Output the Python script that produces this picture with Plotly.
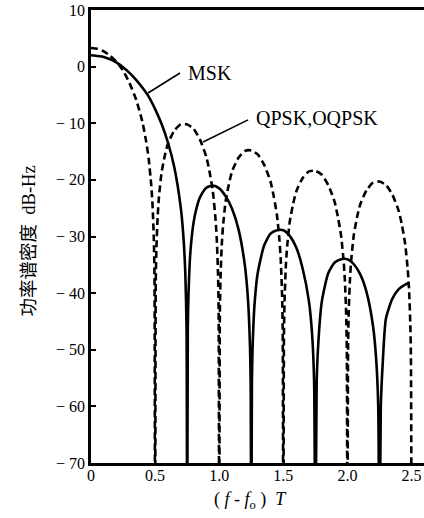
import plotly.graph_objects as go

# QPSK / OQPSK power spectral density (dashed)
qpsk_x = [0, 0.05, 0.1, 0.15, 0.2, 0.25, 0.3, 0.35, 0.4, 0.43, 0.45, 0.47, 0.48, 0.49, 0.495, 0.5,
          0.505, 0.51, 0.52, 0.53, 0.55, 0.575, 0.6, 0.65, 0.7, 0.75, 0.8, 0.85, 0.9, 0.925, 0.95,
          0.97, 0.98, 0.99, 0.995, 1.0,
          1.005, 1.01, 1.02, 1.03, 1.05, 1.075, 1.1, 1.15, 1.2, 1.25, 1.3, 1.35, 1.4, 1.425, 1.45,
          1.47, 1.48, 1.49, 1.495, 1.5,
          1.505, 1.51, 1.52, 1.53, 1.55, 1.575, 1.6, 1.65, 1.7, 1.75, 1.8, 1.85, 1.9, 1.925, 1.95,
          1.97, 1.98, 1.99, 1.995, 2.0,
          2.005, 2.01, 2.02, 2.03, 2.05, 2.075, 2.1, 2.15, 2.2, 2.25, 2.3, 2.35, 2.4, 2.425, 2.45,
          2.47, 2.48, 2.49, 2.495, 2.5]
qpsk_y = [3.3, 3.15, 2.7, 1.9, 0.8, -0.7, -2.9, -5.7, -9.7, -13.2, -16.3, -21, -24.5, -30.5, -36.5, -90,
          -38.2, -32.3, -26.4, -23.0, -18.8, -15.8, -13.6, -11.3, -10.2, -10.2, -11.0, -12.9, -16.0, -18.6, -22.0,
          -26.6, -30.0, -36.1, -42.2, -90,
          -43.3, -37.4, -31.4, -28.1, -23.8, -20.8, -18.5, -16.1, -14.9, -14.8, -15.5, -17.3, -20.3, -22.9, -26.2,
          -30.7, -34.2, -40.2, -46.3, -90,
          -46.9, -41.0, -35.0, -31.7, -27.4, -24.4, -22.1, -19.7, -18.5, -18.4, -19.1, -20.9, -23.9, -26.5, -29.8,
          -34.3, -37.8, -43.8, -49.9, -90,
          -49.3, -43.3, -37.4, -34.0, -29.7, -26.6, -24.3, -21.8, -20.5, -20.3, -20.9, -22.6, -25.5, -28.0, -31.3,
          -35.8, -39.2, -45.3, -51.3, -90]

# MSK power spectral density (solid)
msk_x = [0, 0.1, 0.2, 0.3, 0.35, 0.4, 0.45, 0.5, 0.55, 0.6, 0.65, 0.7, 0.72, 0.735, 0.745, 0.75,
         0.755, 0.76, 0.77, 0.78, 0.8, 0.825, 0.85, 0.9, 0.95, 1.0, 1.05, 1.1, 1.15, 1.2, 1.225, 1.24,
         1.245, 1.25,
         1.255, 1.26, 1.275, 1.3, 1.35, 1.4, 1.45, 1.5, 1.55, 1.6, 1.65, 1.7, 1.725, 1.74, 1.75,
         1.76, 1.775, 1.8, 1.85, 1.9, 1.95, 2.0, 2.05, 2.1, 2.15, 2.2, 2.225, 2.24, 2.25,
         2.26, 2.275, 2.3, 2.35, 2.4, 2.45, 2.48]
msk_y = [2.0, 1.7, 0.7, -1.1, -2.3, -3.7, -5.3, -7.5, -10.1, -13.4, -17.8, -24.9, -29.8, -36.2, -46, -90,
         -46.2, -40.4, -34.6, -31.4, -27.5, -24.8, -23.1, -21.4, -21.0, -21.5, -22.9, -25.1, -28.7, -35.1, -41.4, -49.5,
         -55.6, -90,
         -55.7, -49.8, -42.1, -36.5, -31.6, -29.5, -28.9, -28.9, -29.9, -31.9, -35.6, -41.5, -47.5, -55.6, -90,
         -55.8, -48, -41.5, -36.5, -34.6, -34.0, -34.0, -34.9, -36.7, -39.9, -45.9, -52, -60, -90,
         -60.2, -52.4, -44.5, -41.0, -39.3, -38.5, -38.2]

x_tickvals = [0, 0.5, 1.0, 1.5, 2.0, 2.5]
x_ticktext = ["0", "0.5", "1.0", "1.5", "2.0", "2.5"]
y_tickvals = [10, 0, -10, -20, -30, -40, -50, -60, -70]
y_ticktext = ["10", "0", "− 10", "− 20", "− 30", "− 40", "− 50", "− 60", "− 70"]

msk_label = "MSK"
msk_leader = [(0.445, -4.66), (0.694, -1.13)]
qpsk_label = "QPSK,OQPSK"
qpsk_leader = [(0.874, -13.3), (1.225, -9.4)]

serif = "Liberation Serif, Times New Roman, serif"

fig = go.Figure()
fig.add_trace(go.Scatter(x=qpsk_x, y=qpsk_y, mode="lines",
                         line=dict(color="black", width=2.6, dash="7px,4px",
                                   shape="spline", smoothing=0.6),
                         showlegend=False, hoverinfo="skip"))
fig.add_trace(go.Scatter(x=msk_x, y=msk_y, mode="lines",
                         line=dict(color="black", width=2.6, shape="spline", smoothing=0.6),
                         showlegend=False, hoverinfo="skip"))

for (p0, p1) in [msk_leader, qpsk_leader]:
    fig.add_shape(type="line", xref="x", yref="y", x0=p0[0], y0=p0[1], x1=p1[0], y1=p1[1],
                  line=dict(color="black", width=1.6))

fig.add_annotation(x=msk_leader[1][0] + 0.05, y=msk_leader[1][1], text=msk_label,
                   showarrow=False, xanchor="left", yanchor="middle",
                   font=dict(family=serif, size=20, color="black"))
fig.add_annotation(x=qpsk_leader[1][0] + 0.045, y=qpsk_leader[1][1] + 0.3, text=qpsk_label,
                   showarrow=False, xanchor="left", yanchor="middle",
                   font=dict(family=serif, size=20, color="black"))

# y-axis title placed as rotated annotation
fig.add_annotation(xref="paper", yref="paper", x=-0.185, y=0.49,
                   text="功率谱密度\u00a0\u00a0dB-Hz", textangle=-90, showarrow=False,
                   xanchor="center", yanchor="middle",
                   font=dict(family="Liberation Serif, Noto Sans CJK SC", size=18.5, color="black"))

# x-axis title
fig.add_annotation(xref="paper", yref="paper", x=0.478, y=-0.082,
                   text="(\u00a0<i>f</i>\u00a0-\u00a0<i>f</i><sub>o</sub>\u00a0)\u00a0\u00a0<i>T</i>",
                   showarrow=False, xanchor="center", yanchor="middle",
                   font=dict(family=serif, size=18, color="black"))

fig.update_layout(
    width=424, height=518,
    margin=dict(l=91, r=0, t=10, b=55),
    paper_bgcolor="white", plot_bgcolor="white",
    font=dict(family=serif, size=16, color="black"),
    xaxis=dict(range=[0, 2.597], tickvals=x_tickvals, ticktext=x_ticktext,
               showline=True, linecolor="black", linewidth=2.5, mirror=True,
               ticks="", showgrid=False, zeroline=False, ticklabelstandoff=-4),
    yaxis=dict(range=[-70, 10], tickvals=y_tickvals, ticktext=y_ticktext,
               showline=True, linecolor="black", linewidth=2.5, mirror=False,
               ticks="inside", ticklen=5, tickwidth=2, tickcolor="black",
               showgrid=False, zeroline=False),
)

fig.write_html("out.html")
